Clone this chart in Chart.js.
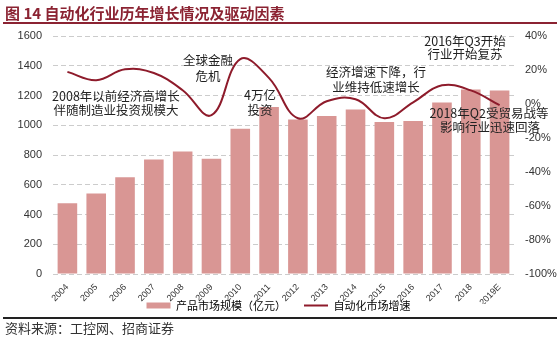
<!DOCTYPE html>
<html>
<head>
<meta charset="utf-8">
<script src="https://cdn.jsdelivr.net/npm/chart.js@4"></script>
<style>
  body { margin: 0; background: #fff; font-family: "Noto Sans CJK SC", sans-serif; }
  #wrap { position: relative; width: 557px; height: 337px; overflow: hidden; }
  #title { position: absolute; left: 5px; top: 2px; font-size: 15px; font-weight: bold; color: #8b2332; white-space: nowrap; }
  #title-rule { position: absolute; left: 3px; right: 0; top: 22px; height: 2px; background: #8b2332; }
  #foot-rule { position: absolute; left: 3px; right: 0; top: 317px; height: 1.5px; background: #222; }
  #source { position: absolute; left: 5px; top: 318px; font-size: 13px; color: #333; white-space: nowrap; }
  #chart { position: absolute; left: 0; top: 0; }
  .note { position: absolute; font-size: 12.5px; color: #222; white-space: nowrap; transform: translate(-50%, -50%); line-height: 1; }
</style>
</head>
<body>
<div id="wrap">
  <canvas id="chart" width="557" height="345"></canvas>
  <div id="title">图 14 自动化行业历年增长情况及驱动因素</div>
  <div id="title-rule"></div>
  <div id="foot-rule"></div>
  <div id="source">资料来源：工控网、招商证券</div>
  <div class="note" style="left:116px;top:96px">2008年以前经济高增长</div>
  <div class="note" style="left:116px;top:110px">伴随制造业投资规模大</div>
  <div class="note" style="left:208px;top:60px">全球金融</div>
  <div class="note" style="left:208px;top:76px">危机</div>
  <div class="note" style="left:260px;top:95px">4万亿</div>
  <div class="note" style="left:260px;top:110px">投资</div>
  <div class="note" style="left:376px;top:72px">经济增速下降，行</div>
  <div class="note" style="left:376px;top:87px">业维持低速增长</div>
  <div class="note" style="left:465px;top:41px">2016年Q3开始</div>
  <div class="note" style="left:465px;top:54px">行业开始复苏</div>
  <div class="note" style="left:489px;top:113px">2018年Q2受贸易战等</div>
  <div class="note" style="left:490px;top:127px">影响行业迅速回落</div>
</div>
<script>
// categories and series
const years = ["2004", "2005", "2006", "2007", "2008", "2009", "2010", "2011", "2012", "2013", "2014", "2015", "2016", "2017", "2018", "2019E"];
const marketSize = [475, 542, 650, 770, 824, 775, 977, 1123, 1038, 1063, 1106, 1022, 1029, 1153, 1241, 1234];
const growthRate = [18.9, 14.0, 20.4, 18.2, 8.1, -6.6, 26.4, 15.2, -8.4, 1.6, 2.8, -8.4, 1.0, 11.0, 8.0, -0.7];
const leftTicks = [0, 1600, 200];   // min, max, step
const rightTicks = [-100, 40, 20];

const barLabel = "产品市场规模（亿元）";
const lineLabel = "自动化市场增速";
const barColor = "#d99694";
const lineColor = "#8e1b2b";
const gridColor = "#cccccc";
const tickFont = { family: "'Liberation Sans', Arial, sans-serif", size: 11 };
const legendGap = 18;

// legend sits higher than Chart.js puts it, just under the rotated year labels
const legendLift = {
    id: "legendLift",
    beforeDraw(chart) {
        const lg = chart.legend;
        const h = lg.bottom - lg.top;
        lg.top = chart.chartArea.bottom + 8;
        lg.bottom = lg.top + h;
    }
};

const ctx = document.getElementById("chart");

new Chart(ctx, {
    data: {
        labels: years,
        datasets: [
            {
                type: "bar",
                label: barLabel,
                data: marketSize,
                backgroundColor: barColor,
                yAxisID: "y",
                categoryPercentage: 0.8,
                barPercentage: 0.85,
                order: 1
            },
            {
                type: "line",
                label: lineLabel,
                data: growthRate,
                borderColor: lineColor,
                borderWidth: 2,
                pointRadius: 0,
                tension: 0.4,
                yAxisID: "y1",
                order: 0
            }
        ]
    },
    plugins: [legendLift],
    options: {
        responsive: false,
        animation: false,
        devicePixelRatio: 1,
        layout: { padding: { top: 36, left: 0, right: 0, bottom: 2 } },
        plugins: {
            tooltip: { enabled: false },
            legend: {
                position: "bottom",
                labels: {
                    usePointStyle: true,
                    pointStyleWidth: 24,
                    boxHeight: 6,
                    padding: legendGap,
                    color: "#333",
                    font: { family: "'Noto Sans CJK SC', sans-serif", size: 11 },
                    generateLabels: () => [
                        { text: barLabel, fillStyle: barColor, strokeStyle: barColor, lineWidth: 0, pointStyle: "rect", datasetIndex: 0, hidden: false },
                        { text: lineLabel, fillStyle: lineColor, strokeStyle: lineColor, lineWidth: 2, pointStyle: "line", datasetIndex: 1, hidden: false }
                    ]
                }
            }
        },
        scales: {
            x: {
                grid: { display: false },
                border: { display: false },
                ticks: { minRotation: 45, maxRotation: 45, padding: 0, color: "#333", font: { family: tickFont.family, size: 9 } },
                afterFit: (s) => { s.height = 30; }
            },
            y: {
                position: "left",
                min: leftTicks[0],
                max: leftTicks[1],
                ticks: { stepSize: leftTicks[2], padding: 11, color: "#333", font: tickFont, callback: (v) => String(v) },
                grid: { color: gridColor, drawTicks: false, lineWidth: 1 },
                border: { display: false, dash: [5, 3] },
                afterFit: (s) => { s.width = 53; }
            },
            y1: {
                position: "right",
                min: rightTicks[0],
                max: rightTicks[1],
                ticks: { stepSize: rightTicks[2], padding: 11, color: "#333", font: tickFont, callback: (v) => v + "%" },
                grid: { display: false, drawTicks: false },
                border: { display: false },
                afterFit: (s) => { s.width = 43; }
            }
        }
    }
});
</script>
</body>
</html>
